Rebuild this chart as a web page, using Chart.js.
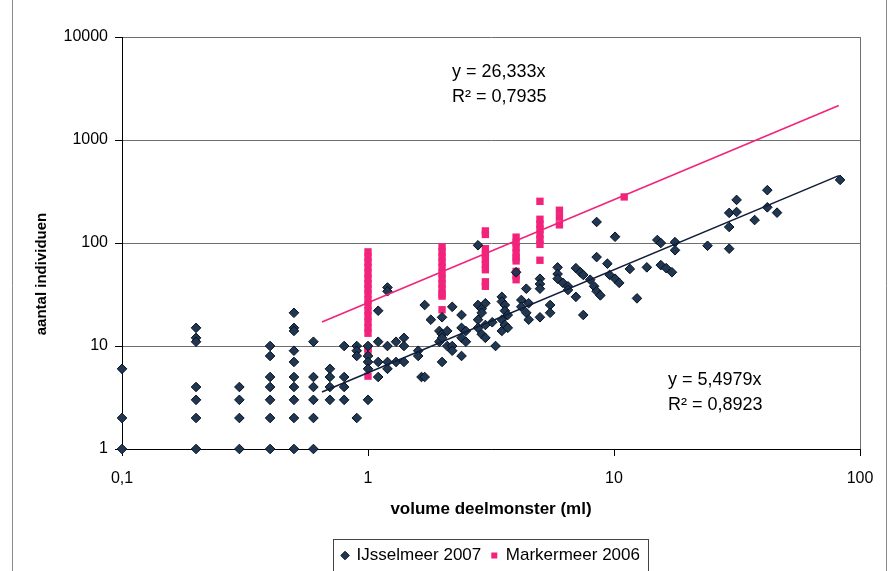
<!DOCTYPE html>
<html>
<head>
<meta charset="utf-8">
<script src="https://cdn.jsdelivr.net/npm/chart.js@4"></script>
<style>
  html, body { margin: 0; padding: 0; background: #fff; }
</style>
</head>
<body>
<canvas id="chartCanvas" width="890" height="571"></canvas>
<script>
// Gegevens
const ijsselVolume = [0.1, 0.2, 0.3, 0.4, 0.5, 0.6, 0.7, 0.8, 0.9, 1.0, 1.1, 1.2, 1.3, 1.4,
    1.6, 1.65, 1.7, 1.8, 1.95, 2.0, 2.1, 2.2, 2.4, 2.5, 2.8, 2.9, 3.0, 3.2, 3.3, 3.5, 3.6, 3.7,
    4.0, 4.2, 4.4, 4.5, 5.0, 5.5, 5.9, 6.2, 6.5, 7.0, 7.3, 7.5, 8.0, 8.3, 8.5, 8.8, 9.4, 9.6,
    10.1, 10.5, 11.6, 12.4, 13.6, 15.0, 15.5, 16.3, 17.2, 17.7, 24, 29.4, 31.5, 37.3, 42, 46, 83];
const ijsselCounts = [
    [6, 2, 1], [15, 12, 11, 4, 3, 2, 1], [4, 3, 2, 1], [10, 8, 5, 4, 3, 2, 1],
    [21, 15, 14, 9, 7, 5, 4, 3, 2, 1], [11, 5, 4, 3, 2, 1], [6, 5, 4, 3], [10, 5, 4, 3],
    [10, 9, 8, 2], [10, 8, 7, 6, 3], [22, 11, 7, 5], [37, 34, 10, 7, 6], [11, 7], [12, 10, 7],
    [9, 8], [5], [25, 5], [18], [14, 11], [19, 13, 12, 7], [14, 10], [24, 10, 9], [20, 15, 12, 8],
    [14, 11], [95, 25, 18, 15], [23, 21, 13], [26, 16, 12], [17], [10], [30, 27, 18, 14],
    [25, 22, 16], [20, 15], [52], [28, 24], [36, 21], [26, 18], [45, 40, 36, 19], [25, 21],
    [58, 50, 45], [41], [38, 35], [57, 30], [52], [49, 20], [44], [38], [160, 73, 34], [31],
    [63], [49], [115, 45], [41], [56], [29], [58], [107], [100, 61], [57], [52], [102, 85],
    [94], [196, 143, 88], [262, 200], [167], [326, 222], [197], [410]];

const markerVolume = [1, 2, 3, 4, 5, 6, 11];
const markerCounts = [
    [82, 73, 65, 58, 51, 45, 40, 36, 32, 28, 25, 22, 19.5, 17, 15, 13.3, 9.5, 9, 5.1],
    [92, 82, 73, 65, 58, 51, 45, 40, 36, 32, 30.5, 22.5],
    [131, 121, 88, 78, 70, 62, 55, 42, 38],
    [114, 101, 90, 80, 72, 67, 53, 48, 44],
    [254, 170, 152, 136, 121, 108, 97, 68],
    [208, 178, 150],
    [280]];

// trendlijnen y = a*x
const ijsselSlope = 5.4979;
const markerSlope = 26.333;
const trendRange = [0.65, 82];

const xTicks = [0.1, 1, 10, 100];
const xTickLabels = ['0,1', '1', '10', '100'];
const yTicks = [1, 10, 100, 1000, 10000];

const toPoints = (xs, groups) => xs.flatMap((x, i) => groups[i].map(y => ({ x: x, y: y })));
const trend = a => trendRange.map(x => ({ x: x, y: a * x }));

const fam = "'Liberation Sans', Arial, sans-serif";
const pink = '#f2237b';

// tekst, kader en legenda-rand
const extras = {
    id: 'extras',
    beforeDraw(chart) {
        const c = chart.ctx;
        c.save();
        c.strokeStyle = '#8a8a8a';
        c.lineWidth = 1;
        c.beginPath();
        c.moveTo(12.5, 0); c.lineTo(12.5, 571);
        c.moveTo(886.5, 0); c.lineTo(886.5, 571);
        c.stroke();
        c.restore();
    },
    afterDraw(chart) {
        const c = chart.ctx;
        const a = chart.chartArea;
        c.save();
        c.strokeStyle = '#6e6e6e';
        c.beginPath();
        c.moveTo(Math.round(a.right) + 0.5, a.top);
        c.lineTo(Math.round(a.right) + 0.5, a.bottom);
        c.stroke();

        c.fillStyle = '#000';
        c.font = '18px ' + fam;
        c.textBaseline = 'middle';
        c.textAlign = 'left';
        c.fillText('y = 26,333x', 452, 72);
        c.fillText('R² = 0,7935', 452, 97);
        c.fillText('y = 5,4979x', 668, 380);
        c.fillText('R² = 0,8923', 668, 405);

        c.font = 'bold 15px ' + fam;
        c.textAlign = 'center';
        c.translate(42, 274);
        c.rotate(-Math.PI / 2);
        c.fillText('aantal individuen', 0, 0);
        c.restore();

        const boxes = chart.legend.legendHitBoxes;
        if (boxes && boxes.length) {
            const l = Math.min(...boxes.map(b => b.left)) - 9;
            const r = Math.max(...boxes.map(b => b.left + b.width)) + 8;
            c.save();
            c.strokeStyle = '#444';
            c.lineWidth = 1;
            c.strokeRect(Math.round(l) + 0.5, 539.5, Math.round(r - l), 40);
            c.restore();
        }
    }
};

const ctx = document.getElementById('chartCanvas').getContext('2d');
new Chart(ctx, {
    type: 'scatter',
    data: {
        datasets: [{
            label: 'IJsselmeer 2007',
            data: toPoints(ijsselVolume, ijsselCounts),
            pointStyle: 'rectRot',
            pointRadius: 4.8,
            backgroundColor: '#1f3753',
            borderColor: '#08101a',
            borderWidth: 1,
            clip: false,
            order: 2
        }, {
            label: 'Markermeer 2006',
            data: toPoints(markerVolume, markerCounts),
            pointStyle: 'rect',
            pointRadius: 5.2,
            backgroundColor: pink,
            borderColor: pink,
            borderWidth: 0,
            clip: false,
            order: 3
        }, {
            label: 'trend IJsselmeer',
            data: trend(ijsselSlope),
            showLine: true,
            borderColor: '#101c3c',
            borderWidth: 1.6,
            pointRadius: 0,
            order: 1
        }, {
            label: 'trend Markermeer',
            data: trend(markerSlope),
            showLine: true,
            borderColor: pink,
            borderWidth: 1.6,
            pointRadius: 0,
            order: 1
        }]
    },
    options: {
        responsive: false,
        animation: false,
        devicePixelRatio: 1,
        layout: { padding: { top: 37, right: 30, left: 0, bottom: -3 } },
        plugins: {
            legend: {
                position: 'bottom',
                fullSize: false,
                labels: {
                    usePointStyle: true,
                    boxWidth: 6,
                    boxHeight: 6,
                    padding: 10,
                    color: '#000',
                    font: { family: fam, size: 17 },
                    filter: item => item.datasetIndex < 2
                }
            },
            tooltip: { enabled: false }
        },
        scales: {
            x: {
                type: 'logarithmic',
                min: 0.1,
                max: 100,
                afterBuildTicks: s => { s.ticks = xTicks.map(v => ({ value: v })); },
                afterFit: s => { s.height = 88; },
                ticks: {
                    callback: v => xTickLabels[xTicks.indexOf(v)],
                    color: '#000',
                    font: { family: fam, size: 16 },
                    padding: 13,
                    maxRotation: 0,
                    autoSkip: false
                },
                grid: { drawOnChartArea: false, tickLength: 7, tickColor: '#000' },
                border: { color: '#000' },
                title: {
                    display: true,
                    text: 'volume deelmonster (ml)',
                    color: '#000',
                    font: { family: fam, size: 17, weight: 'bold' },
                    padding: { top: 0, bottom: 17 }
                }
            },
            y: {
                type: 'logarithmic',
                min: 1,
                max: 10000,
                afterBuildTicks: s => { s.ticks = yTicks.map(v => ({ value: v })); },
                afterFit: s => { s.width = 122; },
                ticks: {
                    callback: v => String(v),
                    color: '#000',
                    font: { family: fam, size: 16 },
                    padding: 7
                },
                grid: { color: '#6e6e6e', tickLength: 7, tickColor: '#000' },
                border: { color: '#000' }
            }
        }
    },
    plugins: [extras]
});
</script>
</body>
</html>
